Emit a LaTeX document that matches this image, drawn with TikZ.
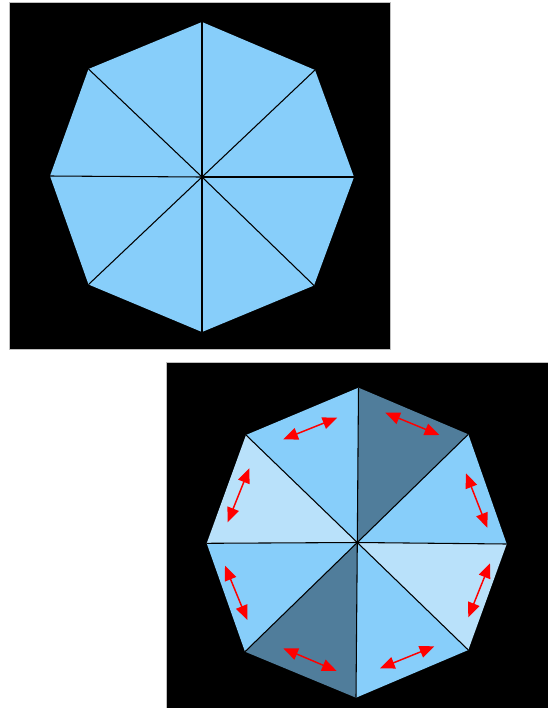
\documentclass[tikz,border=0pt]{standalone}
\usetikzlibrary{arrows.meta}
\definecolor{sky}{HTML}{87CEFA}
\definecolor{skydark}{HTML}{507D9B}
\definecolor{skylight}{HTML}{B9E1FA}
\definecolor{arrred}{HTML}{FF0000}
\tikzset{
  panel/.style={fill=black, draw=black!25, line width=0.4pt},
  spoke/.style={draw=black, line width=0.8pt},
  wedge/.style={line join=round},
  swap/.style={draw=arrred, line width=1.1pt, {Triangle[length=11pt,width=9pt]}-{Triangle[length=11pt,width=9pt]}}
}
\begin{document}
\begin{tikzpicture}[x=0.75pt,y=-0.75pt]
\useasboundingbox (0,0) rectangle (548,708);
% ---------- top panel ----------
\draw[panel] (9,2) rectangle (390,349);
\coordinate (tc) at (202,177);
\coordinate (t1) at (202,22);
\coordinate (t2) at (315,70);
\coordinate (t3) at (354,177);
\coordinate (t4) at (314,285.5);
\coordinate (t5) at (202,332);
\coordinate (t6) at (88.5,284.5);
\coordinate (t7) at (50,176);
\coordinate (t8) at (88.5,69);
\fill[sky] (t1) -- (t2) -- (t3) -- (t4) -- (t5) -- (t6) -- (t7) -- (t8) -- cycle;
\foreach \v in {t1,t2,t3,t4,t5,t6,t7,t8} \draw[spoke] (tc) -- (\v);
% ---------- bottom panel ----------
\draw[panel] (166,362) rectangle (548,708);
\coordinate (bc) at (357.3,542.5);
\coordinate (b1) at (358.5,387.7);
\coordinate (b2) at (468.3,434.3);
\coordinate (b3) at (506.7,544);
\coordinate (b4) at (468.3,650);
\coordinate (b5) at (356,697.7);
\coordinate (b6) at (245,651.7);
\coordinate (b7) at (206.7,543.3);
\coordinate (b8) at (246,435);
\fill[sky, wedge] (bc) -- (b8) -- (b1) -- cycle;
\fill[skydark, wedge] (bc) -- (b1) -- (b2) -- cycle;
\fill[sky, wedge] (bc) -- (b2) -- (b3) -- cycle;
\fill[skylight, wedge] (bc) -- (b3) -- (b4) -- cycle;
\fill[sky, wedge] (bc) -- (b4) -- (b5) -- cycle;
\fill[skydark, wedge] (bc) -- (b5) -- (b6) -- cycle;
\fill[sky, wedge] (bc) -- (b6) -- (b7) -- cycle;
\fill[skylight, wedge] (bc) -- (b7) -- (b8) -- cycle;
\foreach \v in {b1,b2,b3,b4,b5,b6,b7,b8} \draw[spoke] (bc) -- (\v);
% red swap arrows
\coordinate (a1s) at (283.3,439.3); \coordinate (a1e) at (337.3,417.7);
\coordinate (a2s) at (385.3,412.7); \coordinate (a2e) at (439.3,435);
\coordinate (a3s) at (466,473.3);   \coordinate (a3e) at (487.3,527.7);
\coordinate (a4s) at (490,563.3);   \coordinate (a4e) at (468.3,617.3);
\coordinate (a5s) at (434.3,646.3); \coordinate (a5e) at (380,668.3);
\coordinate (a6s) at (336.7,671);   \coordinate (a6e) at (283.3,648.3);
\coordinate (a7s) at (247.3,620);   \coordinate (a7e) at (225,565.7);
\coordinate (a8s) at (227.7,522.3); \coordinate (a8e) at (249.3,468.3);
\foreach \i in {1,...,8} \draw[swap] (a\i s) -- (a\i e);
\end{tikzpicture}
\end{document}
